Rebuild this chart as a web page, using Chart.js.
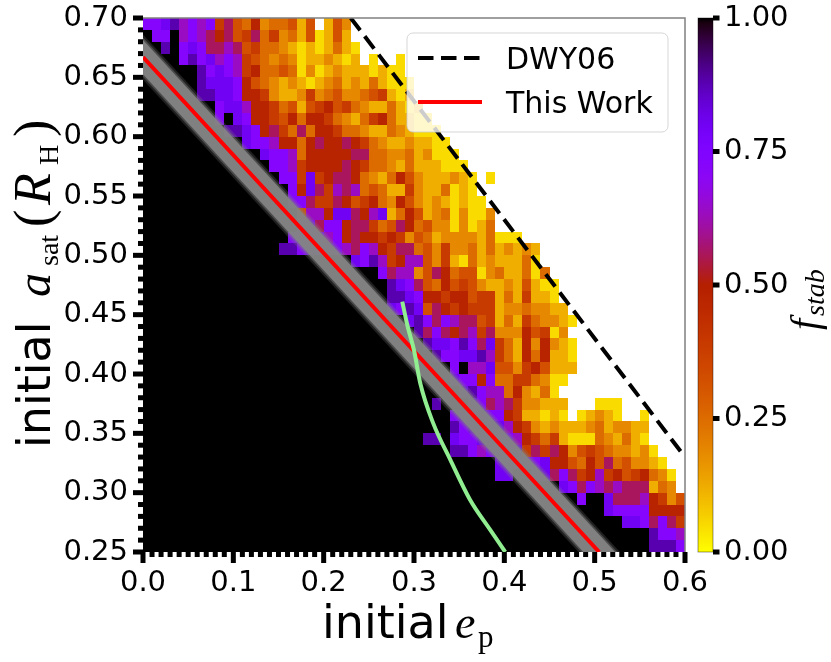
<!DOCTYPE html>
<html>
<head>
<meta charset="utf-8">
<title>f_stab map</title>
<script src="https://cdn.jsdelivr.net/npm/chart.js@4.4.1/dist/chart.umd.min.js"></script>
<style>
  html, body { margin: 0; padding: 0; background: #fff; }
  #wrap { width: 831px; height: 662px; }
</style>
</head>
<body>
<div id="wrap"><canvas id="stabChart" width="831" height="662"></canvas></div>
<script>
// f_stab grid: 0.01 steps in e_p (columns) and a_sat (rows, top row first)
const eStep = 0.01;
const aStep = 0.01;
const aTop = 0.70;
const nCols = 60;

// colour levels
const levelCodes  = ['y', 'g', 'o', 'O', 'r', 'R', 'd', 'c', 'm', 'p', 'P', 'v', 'k'];
const levelValues = [0.05, 0.12, 0.19, 0.25, 0.32, 0.39, 0.48, 0.56, 0.64, 0.73, 0.80, 0.88, 1.0];

// [first coloured column, cells]; columns before it are 1.0, '.' = no data
const fstabRows = [
  [0, 'ppPvmpmpRcrOdoOOrgr.gro'],
  [0, 'kppkmpmcdcrRcORoOgrygrg'],
  [0, 'kkvkpPpccmcrROOogygygOgy'],
  [0, 'kkkkpvpPmpmRrOoOoyggogyg.y..y'],
  [6, 'vpPpmRdOOrOyoygogggygyy'],
  [6, 'vPPPpdrOogogygoOgogOgyyy'],
  [6, 'vvPPpddRoggoRoOrooOrRgyg'],
  [8, 'pPPmddROrgrRdrROoggOgyg'],
  [8, 'pkPpddRrdOddROogORdOggyy'],
  [9, 'vvPpdcROcOddROOoggOogyyy'],
  [11, 'PppmddOdcddcdROoggoggyy'],
  [13, 'PppmOdddddccOOooOgoyyy'],
  [14, 'ppmRddddcdROOogOgggyyy'],
  [15, 'ppRPRdccdOogOdrogggogy.y'],
  [16, 'pdPcRmcmOrOggRoggOygy'],
  [16, 'ppcRRcdrRdOodrogogygyy'],
  [17, 'rmmdPPcdmPgOdrgoOyoyyo'],
  [17, 'PpcppdccROrcdOrooyoygO'],
  [16, 'pPppmpdcddRdRorOgoooogOyyy'],
  [15, 'vvpPPppmcpmdRccOroRooOgOgogog'],
  [23, 'PpvmRdmmroRgyOgogggOy'],
  [26, 'pcmmorcdOrryoOggOyO'],
  [27, 'vPpcrOdrRroggogrgyy'],
  [27, 'vvPpddRddrRRgOgRggy'],
  [27, 'PpvPrcdRdRRRgooOoogg'],
  [29, 'PvpcpmccrRgOgROoogy'],
  [30, 'vcpcdcmRcooodrRyo'],
  [31, 'vPPpvpcPROgdodogy'],
  [32, 'vppPPvmROgdOdggy'],
  [34, 'pkmmPrroRdrggg'],
  [34, 'PppdpOORROoyy'],
  [35, 'PvpmmOdogOy'],
  [32, 'vkkkPpcmcRooggg...yyy'],
  [34, 'pPPPppdRggygy.ygogy..y'],
  [34, 'vpPPPPmdRogogggoOgoogg'],
  [31, 'vvkPppPPPpmdRORgyyyOogOgy'],
  [34, 'vvpmpPPPRcRcdorRrOoogoy'],
  [39, 'PPpppPddrOdrcOroogy'],
  [39, 'PPkkPPcpcRdmRdrRdOoy'],
  [46, 'PpcpmcmcccgOo'],
  [48, 'pkkPcccmdRor'],
  [51, 'Pppppdddd'],
  [53, 'PPpcpcR'],
  [56, 'vppm'],
  [56, 'vvvp']
];

// lines
const dwyE = [0.23, 0.60];
const dwyA = [0.70, 0.33];
const thisWorkE = [0.0, 0.505];
const thisWorkA = [0.667, 0.25];
const greenE = [0.287, 0.293, 0.300, 0.307, 0.321, 0.340, 0.362, 0.384, 0.401];
const greenA = [0.461, 0.440, 0.420, 0.392, 0.359, 0.328, 0.294, 0.269, 0.250];
// grey spread around This Work (closed shapes)
const bandOuterE = [0.0, 0.528, 0.482, 0.0];
const bandOuterA = [0.686, 0.25, 0.25, 0.648];
const bandMidE = [0.0, 0.525, 0.485, 0.0];
const bandMidA = [0.6835, 0.25, 0.25, 0.6505];
const bandInnerE = [0.0, 0.5226, 0.4875, 0.0];
const bandInnerA = [0.6815, 0.25, 0.25, 0.6525];

// ticks
const xTickValues = [0.0, 0.1, 0.2, 0.3, 0.4, 0.5, 0.6];
const yTickValues = [0.25, 0.30, 0.35, 0.40, 0.45, 0.50, 0.55, 0.60, 0.65, 0.70];
const cbTickValues = [0.0, 0.25, 0.50, 0.75, 1.00];

const SANS = '"DejaVu Sans"';
const SERIF = '"Liberation Serif"';

function gnuplotR(v) {
  const t = 1 - v;
  const r = Math.sqrt(t), g = t * t * t, b = Math.min(1, Math.max(0, Math.sin(2 * Math.PI * t)));
  return 'rgb(' + Math.round(255 * r) + ',' + Math.round(255 * g) + ',' + Math.round(255 * b) + ')';
}

const toPts = (xs, ys) => xs.map((v, i) => ({ x: v, y: ys[i] }));

const heatmapPlugin = {
  id: 'fstabMap',
  beforeDatasetsDraw(chart) {
    const { ctx, chartArea, scales: { x, y } } = chart;
    ctx.save();
    ctx.beginPath();
    ctx.rect(chartArea.left, chartArea.top, chartArea.width, chartArea.height);
    ctx.clip();
    fstabRows.forEach(([first, cells], j) => {
      const aHi = aTop - j * aStep;
      const y0 = Math.round(y.getPixelForValue(aHi));
      const y1 = Math.round(y.getPixelForValue(aHi - aStep));
      for (let i = 0; i < nCols; i++) {
        const code = i < first ? 'k' : cells[i - first];
        if (!code || code === '.') continue;
        const x0 = Math.round(x.getPixelForValue(i * eStep));
        const x1 = Math.round(x.getPixelForValue((i + 1) * eStep));
        ctx.fillStyle = gnuplotR(levelValues[levelCodes.indexOf(code)]);
        ctx.fillRect(x0, y0, x1 - x0, y1 - y0);
      }
    });
    ctx.restore();
  }
};

// text pieces placed at offsets (px) from a start point on one baseline
function drawPieces(ctx, parts, x0, baseline) {
  ctx.textAlign = 'left';
  ctx.textBaseline = 'alphabetic';
  parts.forEach(p => { ctx.font = p.font; ctx.fillText(p.text, x0 + p.at, baseline + (p.dy || 0)); });
}

const decorPlugin = {
  id: 'decor',
  afterDraw(chart) {
    const { ctx, chartArea: area, scales: { x, y, cb } } = chart;
    const midX = (area.left + area.right) / 2, midY = (area.top + area.bottom) / 2;
    ctx.save();

    // spines (top, right)
    ctx.strokeStyle = '#808080';
    ctx.lineWidth = 1.5;
    ctx.beginPath();
    ctx.moveTo(area.left, area.top);
    ctx.lineTo(area.right, area.top);
    ctx.lineTo(area.right, area.bottom);
    ctx.stroke();

    // tick marks
    ctx.fillStyle = '#000';
    for (let k = 0; k <= 60; k++) {
      const px = x.getPixelForValue(k / 100);
      const len = k % 10 === 0 ? 11 : 5;
      ctx.fillRect(px - 2.5, area.bottom, 5, len);
    }
    for (let k = 25; k <= 70; k++) {
      const py = y.getPixelForValue(k / 100);
      const len = k % 5 === 0 ? 10 : 5;
      ctx.fillRect(area.left - len, py - 2.5, len, 5);
    }

    // colour bar
    const cbLeft = area.right + 13, cbRight = area.right + 28;
    const cTop = cb.getPixelForValue(1), cBot = cb.getPixelForValue(0);
    const grad = ctx.createLinearGradient(0, cBot, 0, cTop);
    for (let k = 0; k <= 100; k++) grad.addColorStop(k / 100, gnuplotR(k / 100));
    ctx.fillStyle = grad;
    ctx.fillRect(cbLeft, cTop, cbRight - cbLeft, cBot - cTop);
    ctx.strokeStyle = 'rgba(0,0,0,0.5)';
    ctx.lineWidth = 0.8;
    ctx.strokeRect(cbLeft, cTop, cbRight - cbLeft, cBot - cTop);
    ctx.fillStyle = '#000';
    cbTickValues.forEach(v => {
      const py = cb.getPixelForValue(v);
      ctx.fillRect(cbRight, py - 2.5, 6.5, 5);
    });

    // legend
    const lx = area.right - 278, ly = area.top + 15, lw = 261, lh = 99;
    ctx.beginPath();
    ctx.roundRect(lx, ly, lw, lh, 6);
    ctx.fillStyle = 'rgba(255,255,255,0.8)';
    ctx.fill();
    ctx.strokeStyle = 'rgba(204,204,204,0.8)';
    ctx.lineWidth = 1;
    ctx.stroke();
    const items = chart.data.datasets.filter(d => d.inLegend);
    items.forEach((d, k) => {
      const cy = ly + 25 + k * 44;
      ctx.strokeStyle = d.borderColor;
      ctx.lineWidth = d.borderWidth;
      ctx.setLineDash(d.borderDash || []);
      ctx.beginPath();
      ctx.moveTo(lx + 11, cy);
      ctx.lineTo(lx + 75, cy);
      ctx.stroke();
      ctx.setLineDash([]);
      ctx.fillStyle = '#000';
      ctx.font = '30px ' + SANS;
      ctx.textAlign = 'left';
      ctx.textBaseline = 'alphabetic';
      ctx.fillText(d.label, lx + 99, cy + 11);
    });

    // axis titles
    ctx.fillStyle = '#000';
    drawPieces(ctx, [
      { text: 'initial', font: '46px ' + SANS, at: 0 },
      { text: 'e', font: 'italic 46px ' + SERIF, at: 133 },
      { text: 'p', font: '31px ' + SERIF, at: 156, dy: 9 }
    ], midX - 92, 638);

    ctx.save();
    ctx.translate(50, midY);
    ctx.rotate(-Math.PI / 2);
    drawPieces(ctx, [
      { text: 'initial', font: '46px ' + SANS, at: 0 },
      { text: 'a', font: 'italic 48px ' + SERIF, at: 151 },
      { text: 'sat', font: '28px ' + SERIF, at: 182, dy: 8 },
      { text: '(', font: '52px ' + SERIF, at: 221 },
      { text: 'R', font: 'italic 52px ' + SERIF, at: 243 },
      { text: 'H', font: '28px ' + SERIF, at: 283, dy: 8 },
      { text: ')', font: '52px ' + SERIF, at: 311 }
    ], -163, 0);
    ctx.restore();

    ctx.save();
    ctx.translate(818, midY + 11);
    ctx.rotate(-Math.PI / 2);
    drawPieces(ctx, [
      { text: 'f', font: 'italic 40px ' + SERIF, at: -34 },
      { text: 'stab', font: 'italic 28px ' + SERIF, at: -20, dy: 6 }
    ], 0, 0);
    ctx.restore();

    ctx.restore();
  }
};

const tickFont = { family: 'DejaVu Sans', size: 29 };
const noPad = s => { s.paddingTop = 0; s.paddingBottom = 0; s.paddingLeft = 0; s.paddingRight = 0; };

new Chart(document.getElementById('stabChart'), {
  type: 'scatter',
  data: {
    datasets: [
      { label: 'DWY06', inLegend: true, data: toPts(dwyE, dwyA), showLine: true, borderColor: '#000000',
        borderWidth: 4, borderDash: [15.5, 7.5], pointRadius: 0, fill: false },
      { label: 'green', data: toPts(greenE, greenA), showLine: true, borderColor: '#90ee90',
        borderWidth: 4, cubicInterpolationMode: 'monotone', pointRadius: 0, fill: false },
      { label: 'This Work', inLegend: true, data: toPts(thisWorkE, thisWorkA), showLine: true, borderColor: '#ff0000',
        borderWidth: 4, pointRadius: 0, fill: false },
      { label: 'spread inner', data: toPts(bandInnerE, bandInnerA), showLine: true, borderWidth: 0,
        backgroundColor: 'rgba(132,132,132,0.92)', fill: 'shape', pointRadius: 0 },
      { label: 'spread mid', data: toPts(bandMidE, bandMidA), showLine: true, borderWidth: 0,
        backgroundColor: 'rgba(128,128,128,0.45)', fill: 'shape', pointRadius: 0 },
      { label: 'spread outer', data: toPts(bandOuterE, bandOuterA), showLine: true, borderWidth: 0,
        backgroundColor: 'rgba(128,128,128,0.25)', fill: 'shape', pointRadius: 0 }
    ]
  },
  options: {
    responsive: false,
    animation: false,
    layout: { padding: { top: 18, left: 0, right: 0, bottom: 0 } },
    plugins: { legend: { display: false }, tooltip: { enabled: false } },
    scales: {
      x: {
        type: 'linear', position: 'bottom', min: 0, max: 0.6,
        afterBuildTicks: s => { s.ticks = xTickValues.map(v => ({ value: v })); },
        afterFit: s => { s.height = 110; noPad(s); },
        grid: { display: false, drawTicks: false }, border: { display: false },
        ticks: { font: tickFont, color: '#000', padding: 14, maxRotation: 0, autoSkip: false,
                 callback: v => Number(v).toFixed(1) }
      },
      y: {
        type: 'linear', position: 'left', min: 0.25, max: 0.70,
        afterBuildTicks: s => { s.ticks = yTickValues.map(v => ({ value: v })); },
        afterFit: s => { s.width = 143; noPad(s); },
        grid: { display: false, drawTicks: false }, border: { display: false },
        ticks: { font: tickFont, color: '#000', padding: 15, autoSkip: false,
                 callback: v => Number(v).toFixed(2) }
      },
      cb: {
        type: 'linear', position: 'right', min: 0, max: 1,
        afterBuildTicks: s => { s.ticks = cbTickValues.map(v => ({ value: v })); },
        afterFit: s => { s.width = 146; noPad(s); },
        grid: { display: false, drawTicks: false }, border: { display: false },
        ticks: { font: tickFont, color: '#000', padding: 39, autoSkip: false,
                 callback: v => Number(v).toFixed(2) }
      }
    }
  },
  plugins: [heatmapPlugin, decorPlugin]
});
</script>
</body>
</html>
